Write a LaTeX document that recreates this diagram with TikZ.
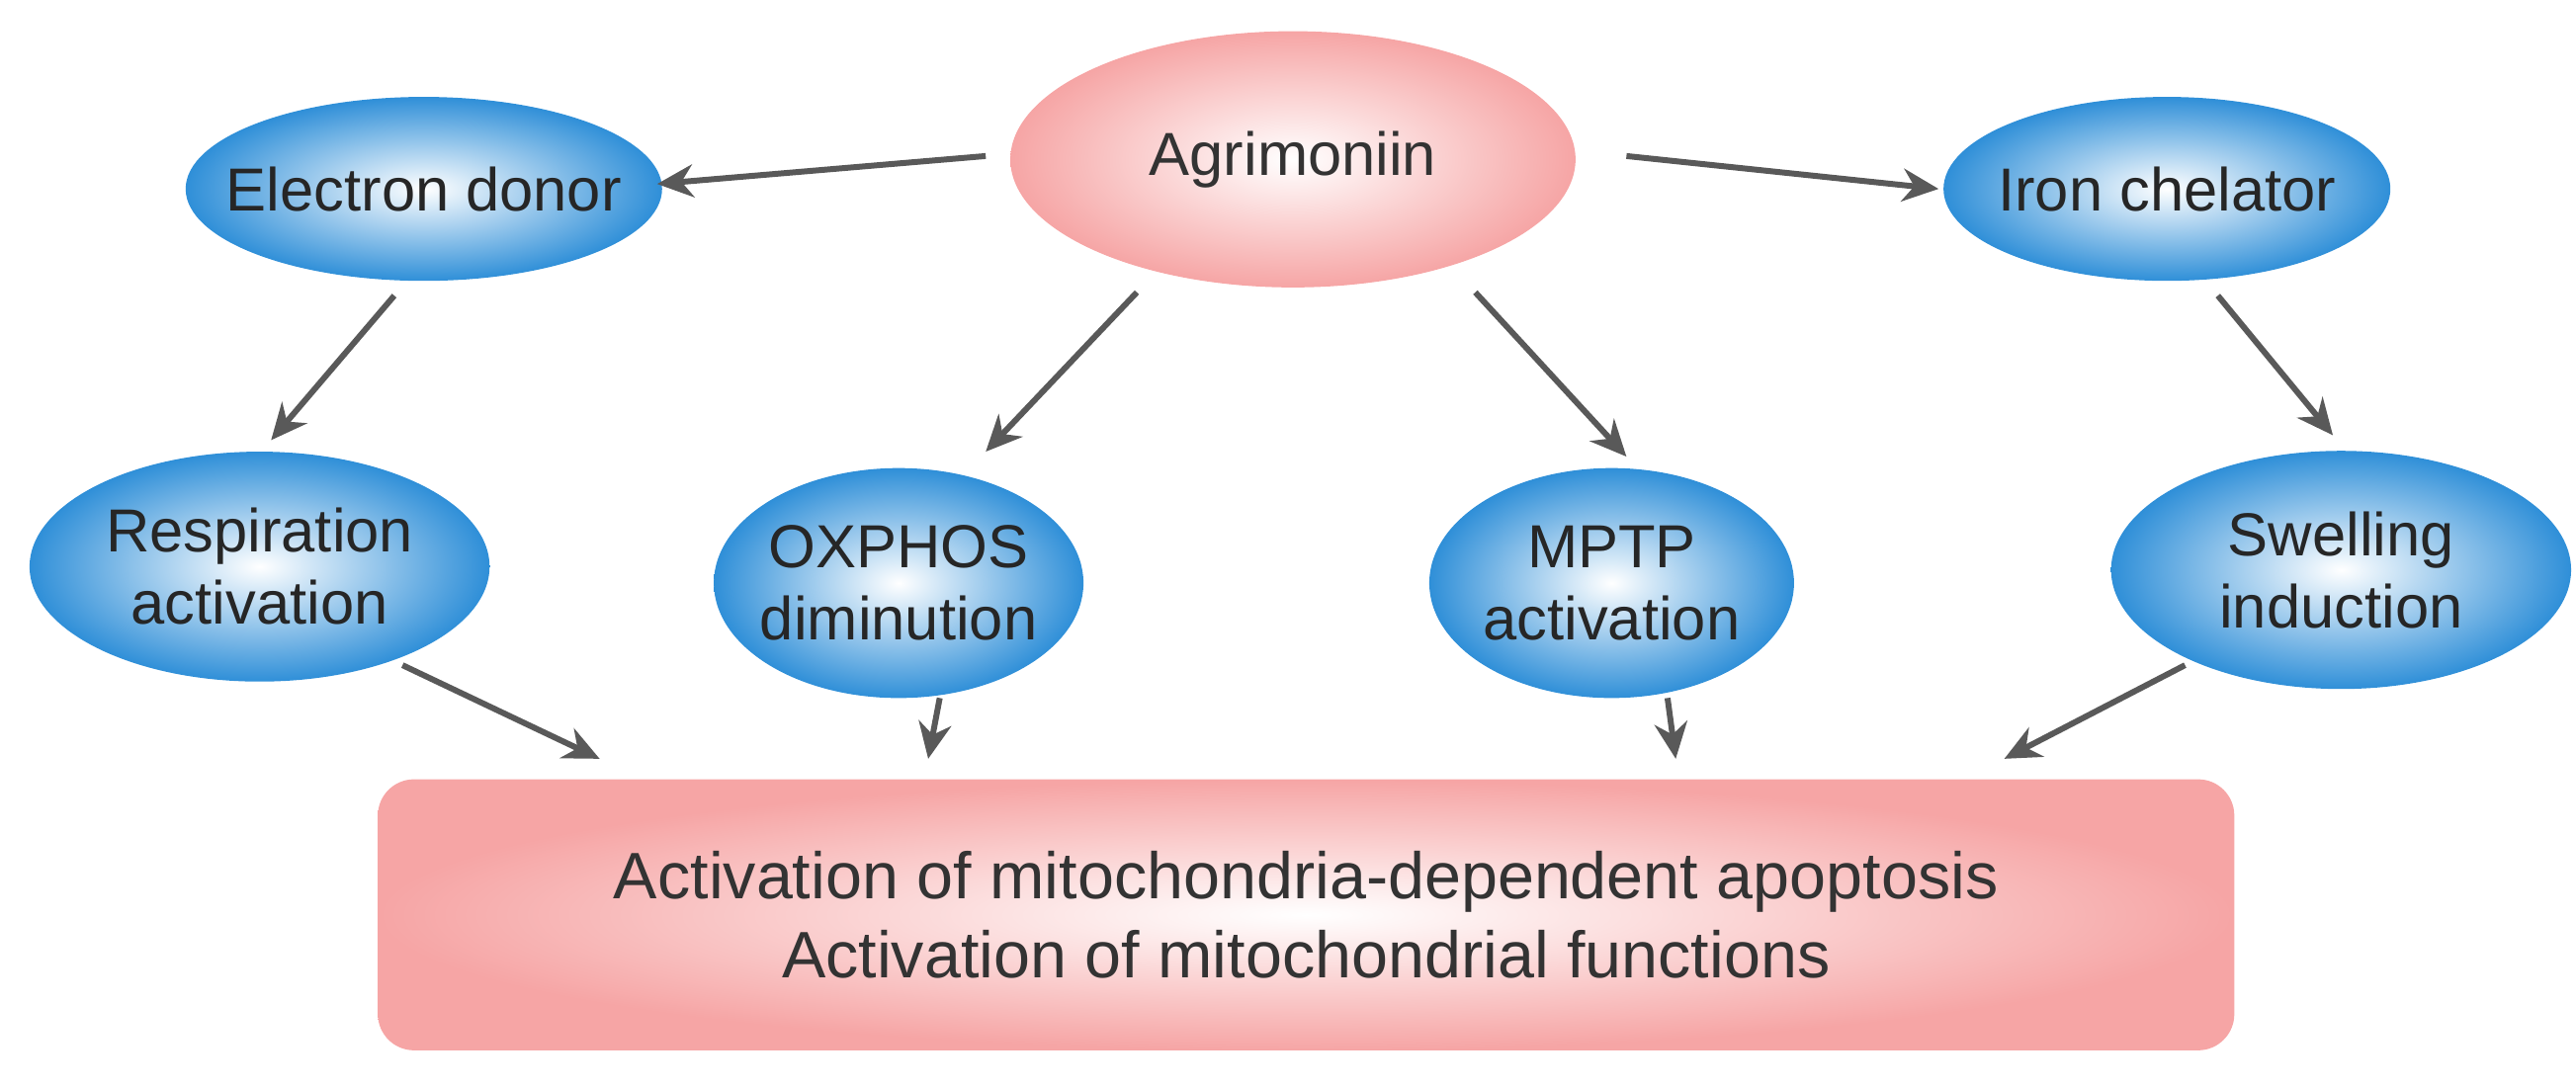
\documentclass[tikz,border=0pt]{standalone}
\usepackage{fontspec}
\setmainfont{Liberation Sans}
\usetikzlibrary{shapes.geometric,calc,arrows.meta}
\definecolor{bl}{HTML}{2F8FD8}
\definecolor{pk}{HTML}{F6A5A5}
\begin{document}
\begin{tikzpicture}[x=1pt,y=-1pt,
  blue/.style={ellipse,inner xsep=-60pt,inner ysep=-25pt,shading=radial,inner color=white,outer color=bl,
    text=black!85,font=\fontsize{37}{44}\selectfont,align=center},
  pinkell/.style={ellipse,inner sep=0pt,shading=radial,inner color=white,outer color=pk,text=black!80},
  arr/.style={draw=black!65,line width=3.6pt,-{Stealth[length=22pt,width=20pt]}}]
\useasboundingbox (0,0) rectangle (1568,662);
\node[pinkell,minimum width=344pt,minimum height=156pt,font=\fontsize{37}{44}\selectfont] (agr) at (787,97) {Agrimoniin};
\node[blue,minimum width=290pt,minimum height=112pt] (ed) at (258,115) {Electron donor};
\node[blue,minimum width=272pt,minimum height=112pt] (ir) at (1319,115) {Iron chelator};
\node[blue,minimum width=280pt,minimum height=140pt] (re) at (158,345) {Respiration\\activation};
\node[blue,minimum width=225pt,minimum height=140pt] (ox) at (547,355) {OXPHOS\\diminution};
\node[blue,minimum width=222pt,minimum height=140pt] (mp) at (981,355) {MPTP\\activation};
\node[blue,minimum width=280pt,minimum height=145pt] (sw) at (1425,347) {Swelling\\induction};
\node[rectangle,rounded corners=22pt,minimum width=1130pt,minimum height=165pt,shading=radial,inner color=white,outer color=pk,
  text=black!80,font=\fontsize{40}{48}\selectfont,align=center] (box) at (795,557)
  {Activation of mitochondria-dependent apoptosis\\Activation of mitochondrial functions};
\draw[arr] ($(agr)+(-187,-2)$) -- ($(ed)+(142,-3)$);
\draw[arr] ($(agr)+(203,-2)$) -- ($(ir)+(-139,0)$);
\draw[arr] ($(agr)+(-95,81)$) -- ($(ox)+(53,-80)$);
\draw[arr] ($(agr)+(111,81)$) -- ($(mp)+(9,-77)$);
\draw[arr] ($(ed)+(-18,65)$) -- ($(re)+(7,-77)$);
\draw[arr] ($(ir)+(31,65)$) -- ($(sw)+(-5,-82)$);
\draw[arr] ($(re)+(87,60)$) -- ($(box)+(-430,-95)$);
\draw[arr] ($(ox)+(25,70)$) -- ($(box)+(-230,-95)$);
\draw[arr] ($(mp)+(34,70)$) -- ($(box)+(225,-95)$);
\draw[arr] ($(sw)+(-95,58)$) -- ($(box)+(425,-95)$);
\end{tikzpicture}
\end{document}
